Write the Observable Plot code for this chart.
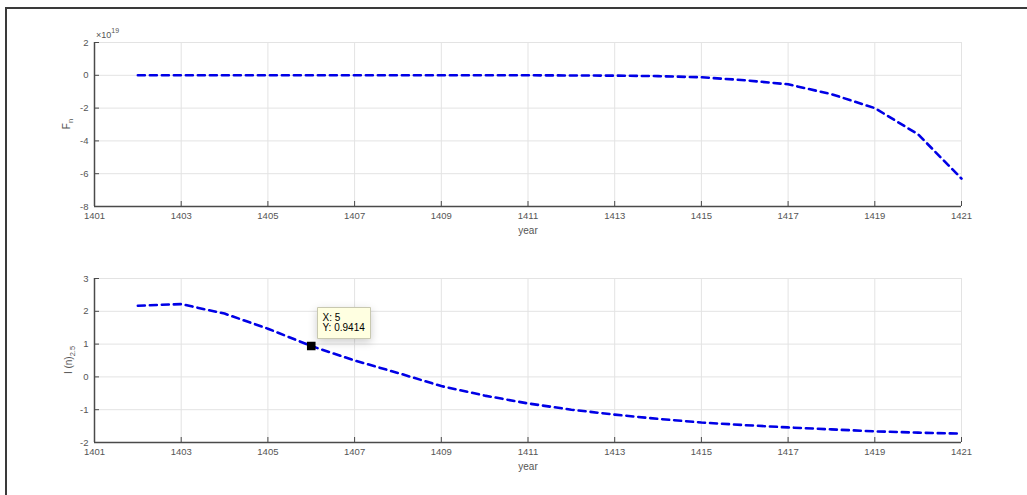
<!DOCTYPE html>
<html><head><meta charset="utf-8">
<script src="https://cdn.jsdelivr.net/npm/d3@7"></script>
<script src="https://cdn.jsdelivr.net/npm/@observablehq/plot@0.6"></script>
<style>
body{margin:0;background:#fff;font-family:"Liberation Sans",Arial,sans-serif;}
#fig{position:relative;width:1027px;height:495px;overflow:hidden;background:#fff;}
#frame{position:absolute;left:5px;top:7px;width:1100px;height:600px;border-top:2px solid #3a3a3a;border-left:2px solid #3a3a3a;}
.panel{position:absolute;left:0;}
</style></head><body>
<div id="fig"><div id="frame"></div><div id="toppanel" class="panel" style="top:0"></div><div id="botpanel" class="panel" style="top:248px"></div></div>
<script>
// data
const years = [1402,1403,1404,1405,1406,1407,1408,1409,1410,1411,1412,1413,1414,1415,1416,1417,1418,1419,1420,1421];
// F_n in units of 1e19
const Fn = [0,0,0,0,0,0,0,0,0,0,-0.01,-0.02,-0.05,-0.12,-0.3,-0.55,-1.15,-2.0,-3.6,-6.3];
const In25 = [2.17,2.22,1.93,1.47,0.9414,0.5,0.12,-0.28,-0.57,-0.81,-1.0,-1.15,-1.28,-1.39,-1.47,-1.54,-1.6,-1.66,-1.7,-1.73];
const xTicks = [1401,1403,1405,1407,1409,1411,1413,1415,1417,1419,1421];
const yTicksTop = [-8,-6,-4,-2,0,2];
const yTicksBot = [-2,-1,0,1,2,3];
const tipYear = 1406, tipXLabel = "X: 5", tipY = 0.9414;

const FONT = "Liberation Sans, Arial, sans-serif";
function panel({values, yDomain, yTicks, height, marginTop, marginBottom, tip}) {
  const data = years.map((x, i) => ({x, y: values[i]}));
  const marks = [
    Plot.gridX(xTicks, {stroke: "#e3e3e3", strokeOpacity: 1}),
    Plot.gridY(yTicks, {stroke: "#e3e3e3", strokeOpacity: 1}),
    Plot.ruleY([yDomain[0]], {stroke: "#4a4a4a", strokeWidth: 1.5}),
    Plot.ruleX([xTicks[0]], {stroke: "#4a4a4a", strokeWidth: 1.5}),
    Plot.axisX({ticks: xTicks, tickSize: -5, tickPadding: 11, tickFormat: d => String(d), label: null, stroke: "#4a4a4a", color: "#555"}),
    Plot.axisY({ticks: yTicks, tickSize: -5, tickPadding: 11, tickFormat: d => String(d), label: null, stroke: "#4a4a4a", color: "#555"}),
    Plot.line(data, {x: "x", y: "y", stroke: "#0000e6", strokeWidth: 2.6, strokeDasharray: "7,5"}),
    Plot.text(["year"], {frameAnchor: "bottom", dy: 27, fontSize: 10, fill: "#555"})
  ];
  if (tip) {
    marks.push(Plot.dot([{x: tipYear, y: tipY}], {x: "x", y: "y", symbol: "square", r: 4, fill: "black", stroke: "black"}));
    marks.push(Plot.tip([{x: tipYear, y: tipY}], {x: "x", y: "y", title: () => `${tipXLabel}\nY: ${tipY}`,
      anchor: "bottom-left", pointerSize: 0, fill: "#ffffe1", stroke: "#c8c8b0", fontSize: 10, textPadding: 5, dx: 6, dy: -8}));
  }
  return Plot.plot({
    width: 1027, height, marginLeft: 94, marginRight: 66, marginTop, marginBottom,
    style: {fontFamily: FONT, fontSize: "9.5px", background: "transparent", overflow: "visible"},
    x: {domain: [1401, 1421]},
    y: {domain: yDomain},
    marks
  });
}

const topSvg = panel({values: Fn, yDomain: [-8, 2], yTicks: yTicksTop, height: 248, marginTop: 42, marginBottom: 42});
const botSvg = panel({values: In25, yDomain: [-2, 3], yTicks: yTicksBot, height: 247, marginTop: 30, marginBottom: 53, tip: true});
document.getElementById("toppanel").appendChild(topSvg);
document.getElementById("botpanel").appendChild(botSvg);

// y labels with subscripts
function ylabel(svg, cx, cy, main, sub) {
  const t = d3.select(svg).append("text")
    .attr("transform", `translate(${cx},${cy}) rotate(-90)`)
    .attr("text-anchor", "middle").attr("font-family", FONT).attr("font-size", 10).attr("fill", "#555");
  t.append("tspan").text(main);
  t.append("tspan").attr("dy", 3).attr("font-size", 7.5).text(sub);
}
ylabel(topSvg, 70, 124, "F", "n");
ylabel(botSvg, 72, 112, "I (n)", "2.5");

// exponent label
const ex = d3.select(topSvg).append("text").attr("x", 96).attr("y", 38).attr("text-anchor", "start")
  .attr("font-family", FONT).attr("font-size", 9).attr("fill", "#555");
ex.append("tspan").text("×10");
ex.append("tspan").attr("dy", -5).attr("font-size", 7).text("19");
</script>
</body></html>
